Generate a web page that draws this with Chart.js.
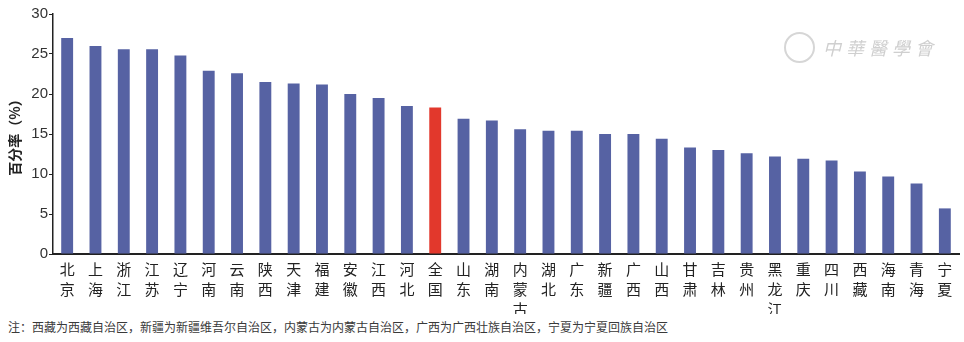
<!DOCTYPE html>
<html>
<head>
<meta charset="utf-8">
<script src="https://cdn.jsdelivr.net/npm/chart.js@4.4.0/dist/chart.umd.min.js"></script>
<style>
  body { margin: 0; background: #fff; }
  #wrap { position: relative; width: 964px; height: 342px; }
  #box { position: absolute; left: 0; top: 0; width: 964px; height: 314px; }
  #note {
    position: absolute; left: 8px; top: 318px;
    font: 12px "Noto Sans CJK SC", sans-serif; color: #3a3a3a; white-space: nowrap;
  }
  #mark {
    position: absolute; left: 784px; top: 31px; height: 32px;
    display: flex; align-items: center; gap: 8px;
    color: #cfcfcf; font: italic 18px "Noto Sans CJK TC", serif; letter-spacing: 5px;
  }
  #mark .seal {
    width: 27px; height: 27px; border: 2px solid #d6d6d6; border-radius: 50%;
  }
</style>
</head>
<body>
<div id="wrap">
  <div id="box"><canvas id="chart"></canvas></div>
  <div id="mark"><div class="seal"></div><span>中華醫學會</span></div>
  <div id="note">注：西藏为西藏自治区，新疆为新疆维吾尔自治区，内蒙古为内蒙古自治区，广西为广西壮族自治区，宁夏为宁夏回族自治区</div>
</div>
<script>
const regions = [
  "北京", "上海", "浙江", "江苏", "辽宁", "河南", "云南", "陕西", "天津", "福建", "安徽",
  "江西", "河北", "全国", "山东", "湖南", "内蒙古", "湖北", "广东", "新疆", "广西", "山西",
  "甘肃", "吉林", "贵州", "黑龙江", "重庆", "四川", "西藏", "海南", "青海", "宁夏"
];
const rates = [
  27.0, 26.0, 25.6, 25.6, 24.8, 22.9, 22.6, 21.5, 21.3, 21.2, 20.0,
  19.5, 18.5, 18.3, 16.9, 16.7, 15.6, 15.4, 15.4, 15.0, 15.0, 14.4,
  13.3, 13.0, 12.6, 12.2, 11.9, 11.7, 10.3, 9.7, 8.8, 5.7
];
const yTicks = [0, 5, 10, 15, 20, 25, 30];
const nationalLabel = "全国";

const BLUE = "#5662a3";
const RED = "#e2382c";

new Chart(document.getElementById("chart"), {
  type: "bar",
  data: {
    // one character per line, stacked vertically under each bar
    labels: regions.map((name) => name.split("")),
    datasets: [{
      data: rates,
      backgroundColor: regions.map((name) => name === nationalLabel ? RED : BLUE),
      borderWidth: 0,
      barPercentage: 0.42,
      categoryPercentage: 1
    }]
  },
  options: {
    responsive: true,
    maintainAspectRatio: false,
    animation: false,
    layout: { padding: { top: 14, right: 5, left: 0, bottom: 0 } },
    plugins: {
      legend: { display: false },
      tooltip: { enabled: false }
    },
    scales: {
      x: {
        afterFit: (scale) => { scale.height = 60; },
        grid: { display: false, drawTicks: false },
        border: { color: "#222", width: 2 },
        ticks: {
          color: "#222",
          autoSkip: false,
          maxRotation: 0,
          minRotation: 0,
          padding: 5,
          font: { family: "Noto Sans CJK SC", size: 15, lineHeight: 1.33 }
        }
      },
      y: {
        min: 0,
        max: 30,
        afterFit: (scale) => { scale.width = 53; },
        afterBuildTicks: (scale) => { scale.ticks = yTicks.map((v) => ({ value: v })); },
        grid: { drawOnChartArea: false, drawTicks: true, tickLength: 4, color: "#222" },
        border: { color: "#222", width: 1.5 },
        ticks: {
          color: "#333",
          padding: 1,
          font: { family: "Liberation Sans", size: 15 }
        },
        title: {
          display: true,
          text: "百分率（%）",
          color: "#222",
          padding: { top: 6, bottom: 0 },
          font: { family: "Noto Sans CJK SC", size: 14, weight: "bold" }
        }
      }
    }
  }
});
</script>
</body>
</html>
